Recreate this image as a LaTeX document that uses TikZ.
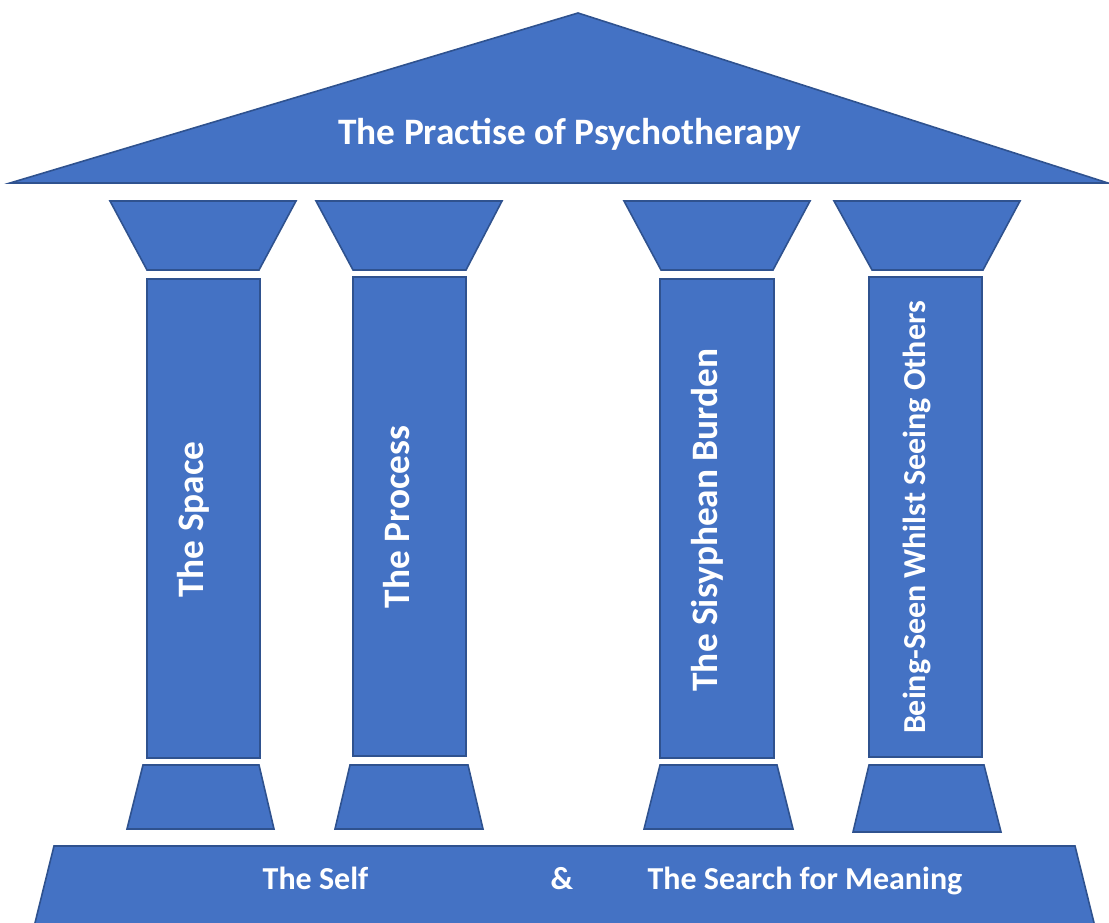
\documentclass[tikz,border=0pt]{standalone}
\usepackage{fontspec}
\setmainfont{Carlito}
\definecolor{pillar}{HTML}{4472C4}
\definecolor{edge}{HTML}{2F528F}
\begin{document}
\begin{tikzpicture}[x=0.75pt,y=-0.75pt,
  part/.style={fill=pillar,draw=edge,line width=1.2pt,line join=miter},
  biglabel/.style={text=white,inner sep=0pt,font=\bfseries\fontsize{28}{32}\selectfont},
  smalllabel/.style={text=white,inner sep=0pt,font=\bfseries\fontsize{24}{28}\selectfont},
  upright/.style={rotate=90,anchor=base}]
\useasboundingbox (0,0) rectangle (1109,923);
\clip (0,0) rectangle (1109,923);

% roof
\draw[part] (578,13) -- (1108,183) -- (10,183) -- cycle;
\node[biglabel,anchor=base] (roof) at (570,145) {The Practise of Psychotherapy};

% capitals: top-left, top-right, bottom-left, bottom-right x
\foreach \a/\b/\c/\d in {110/296/147/259, 316/502/353/466, 624/810/661/773, 834/1020/872/983}
  \draw[part] (\a,201) -- (\b,201) -- (\d,270) -- (\c,270) -- cycle;

% shafts
\foreach \a/\b/\t/\u in {147/260/279/758, 353/466/277/756, 660/774/279/758, 869/982/277/757}
  \draw[part] (\a,\t) rectangle (\b,\u);

% column bases
\foreach \a/\b/\c/\d/\h in {143/259/127/274/829, 350/468/335/483/829, 660/777/644/793/829, 869/984/853/1001/832}
  \draw[part] (\a,765) -- (\b,765) -- (\d,\h) -- (\c,\h) -- cycle;

% plinth
\draw[part] (54,846) -- (1075,846) -- (1097,935) -- (32,935) -- cycle;

% pillar labels
\node[biglabel,upright] (space) at (203,519.5) {The Space};
\node[biglabel,upright] (process) at (409,517) {The Process};
\node[biglabel,upright] (burden) at (717,520) {The Sisyphean Burden};
\node[smalllabel,upright] (seen) at (925,517.5) {Being-Seen Whilst Seeing Others};

% plinth labels
\node[smalllabel,anchor=base] (self) at (315.5,889) {The Self};
\node[smalllabel,anchor=base] (amp) at (562,889) {\&};
\node[smalllabel,anchor=base] (meaning) at (805,889) {The Search for Meaning};
\end{tikzpicture}
\end{document}
